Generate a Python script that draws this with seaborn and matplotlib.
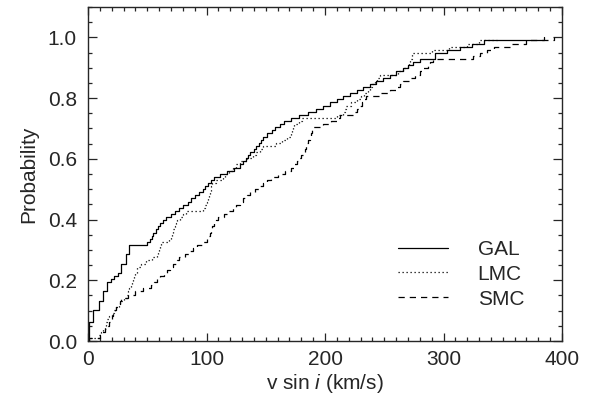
import matplotlib
matplotlib.use("Agg")
import matplotlib.pyplot as plt
import seaborn as sns
import pandas as pd
from matplotlib.ticker import MultipleLocator, FormatStrFormatter
from matplotlib.lines import Line2D

# v sin i values (km/s)
gal = [1, 1, 1, 1, 1, 1, 4, 4, 4, 4, 9, 9, 9, 13, 13, 13, 16, 16, 16, 19,
       22, 25, 28, 28, 28, 32, 32, 32, 35, 35, 35, 50, 52, 54, 55,
       57, 59, 61, 63, 66, 70, 73, 77, 80, 84, 87, 90, 94,
       97, 99, 101, 104, 106, 111, 117, 123, 128, 131, 133, 135, 137,
       140, 142, 144, 146, 148, 151, 155, 158, 162, 165, 171, 178, 186,
       192, 198, 204, 210, 215, 221, 227, 232, 238, 243, 249, 255, 260, 266,
       270, 274, 280, 293, 293, 303, 314, 324, 334, 385]
lmc = [1, 9, 11, 13, 14, 15, 16, 18, 20, 22, 24, 26, 27, 30, 33, 34, 35,
       36, 37, 38, 39, 40, 41, 41, 45, 49, 54, 58, 59, 60, 61, 62, 68,
       70, 71, 72, 73, 74, 75, 78, 80, 83, 97, 99, 100, 101, 102, 103,
       104, 104, 105, 108, 114, 116, 119, 122, 125, 128, 134, 139, 142, 145, 148,
       159, 164, 168, 171, 172, 173, 174, 178, 181, 210, 215, 217, 218, 222, 227,
       230, 233, 236, 238, 240, 242, 244, 246, 262, 266, 270,
       271, 272, 273, 273, 290, 305, 320, 330, 345]
smc = [1, 10, 12, 14, 16, 18, 19, 20, 21, 23, 24, 25, 27, 28, 34, 40, 46, 53,
       56, 58, 61, 64, 67, 69, 72, 75, 77, 82, 86, 89, 92, 96, 100,
       102, 103, 104, 105, 106, 108, 110, 115, 119, 122, 125, 128, 131, 134, 137,
       141, 145, 148, 151, 154, 160, 166, 171, 174, 176, 177, 180, 182, 183, 184,
       185, 186, 187, 188, 189, 190, 198, 205, 210, 213, 224, 227, 229, 231, 233, 235,
       246, 255, 260, 263, 266, 271, 276, 280, 283, 287, 289, 291,
       325, 331, 337, 343, 356, 370, 393]

labels = ["GAL", "LMC", "SMC"]
styles = ["-", (0, (1, 2.2)), (0, (5, 4))]

sns.set_theme(style="white")
plt.rcParams['font.family'] = ['Liberation Sans', 'DejaVu Sans']
plt.rcParams['mathtext.fontset'] = 'custom'
plt.rcParams['mathtext.rm'] = 'Liberation Sans'
plt.rcParams['mathtext.it'] = 'Liberation Sans:italic'

txtc = '#262626'
fs = 15
fig = plt.figure(figsize=(5.98, 4.01), dpi=100)
ax = fig.add_axes([0.1472, 0.1496, 0.7926, 0.8329])

for data, lab, ls in zip([gal, lmc, smc], labels, styles):
    df = pd.DataFrame({"vsini": data})
    sns.ecdfplot(data=df, x="vsini", ax=ax, color="black", linestyle=ls,
                 linewidth=0.9, label=lab)

ax.set_xlim(0, 400)
ax.set_ylim(0, 1.1)
ax.xaxis.set_major_locator(MultipleLocator(100))
ax.xaxis.set_minor_locator(MultipleLocator(10))
ax.yaxis.set_major_locator(MultipleLocator(0.2))
ax.yaxis.set_minor_locator(MultipleLocator(0.05))
ax.yaxis.set_major_formatter(FormatStrFormatter('%.1f'))
ax.tick_params(which='both', direction='in', top=True, right=True,
               bottom=True, left=True, colors=txtc, labelsize=fs, width=0.9)
ax.tick_params(axis='y', which='major', length=6.5, pad=8)
ax.tick_params(axis='x', which='major', length=6, pad=6.5)
ax.tick_params(which='minor', length=3.2)
for sp in ax.spines.values():
    sp.set_color(txtc)
    sp.set_linewidth(1.0)

ax.set_xlabel("v sin $i$ (km/s)", fontsize=fs, color=txtc, labelpad=2)
ax.set_ylabel("Probability", fontsize=fs, color=txtc, labelpad=7)

handles = [Line2D([], [], color='black', linestyle=ls, linewidth=0.9) for ls in styles]
ax.legend(handles, labels, loc='center', frameon=False, fontsize=fs,
          handlelength=2.4, handletextpad=1.43, labelspacing=0.28,
          borderpad=0, bbox_to_anchor=(0.787, 0.20), labelcolor=txtc)

fig.savefig("out.png", dpi=100)
